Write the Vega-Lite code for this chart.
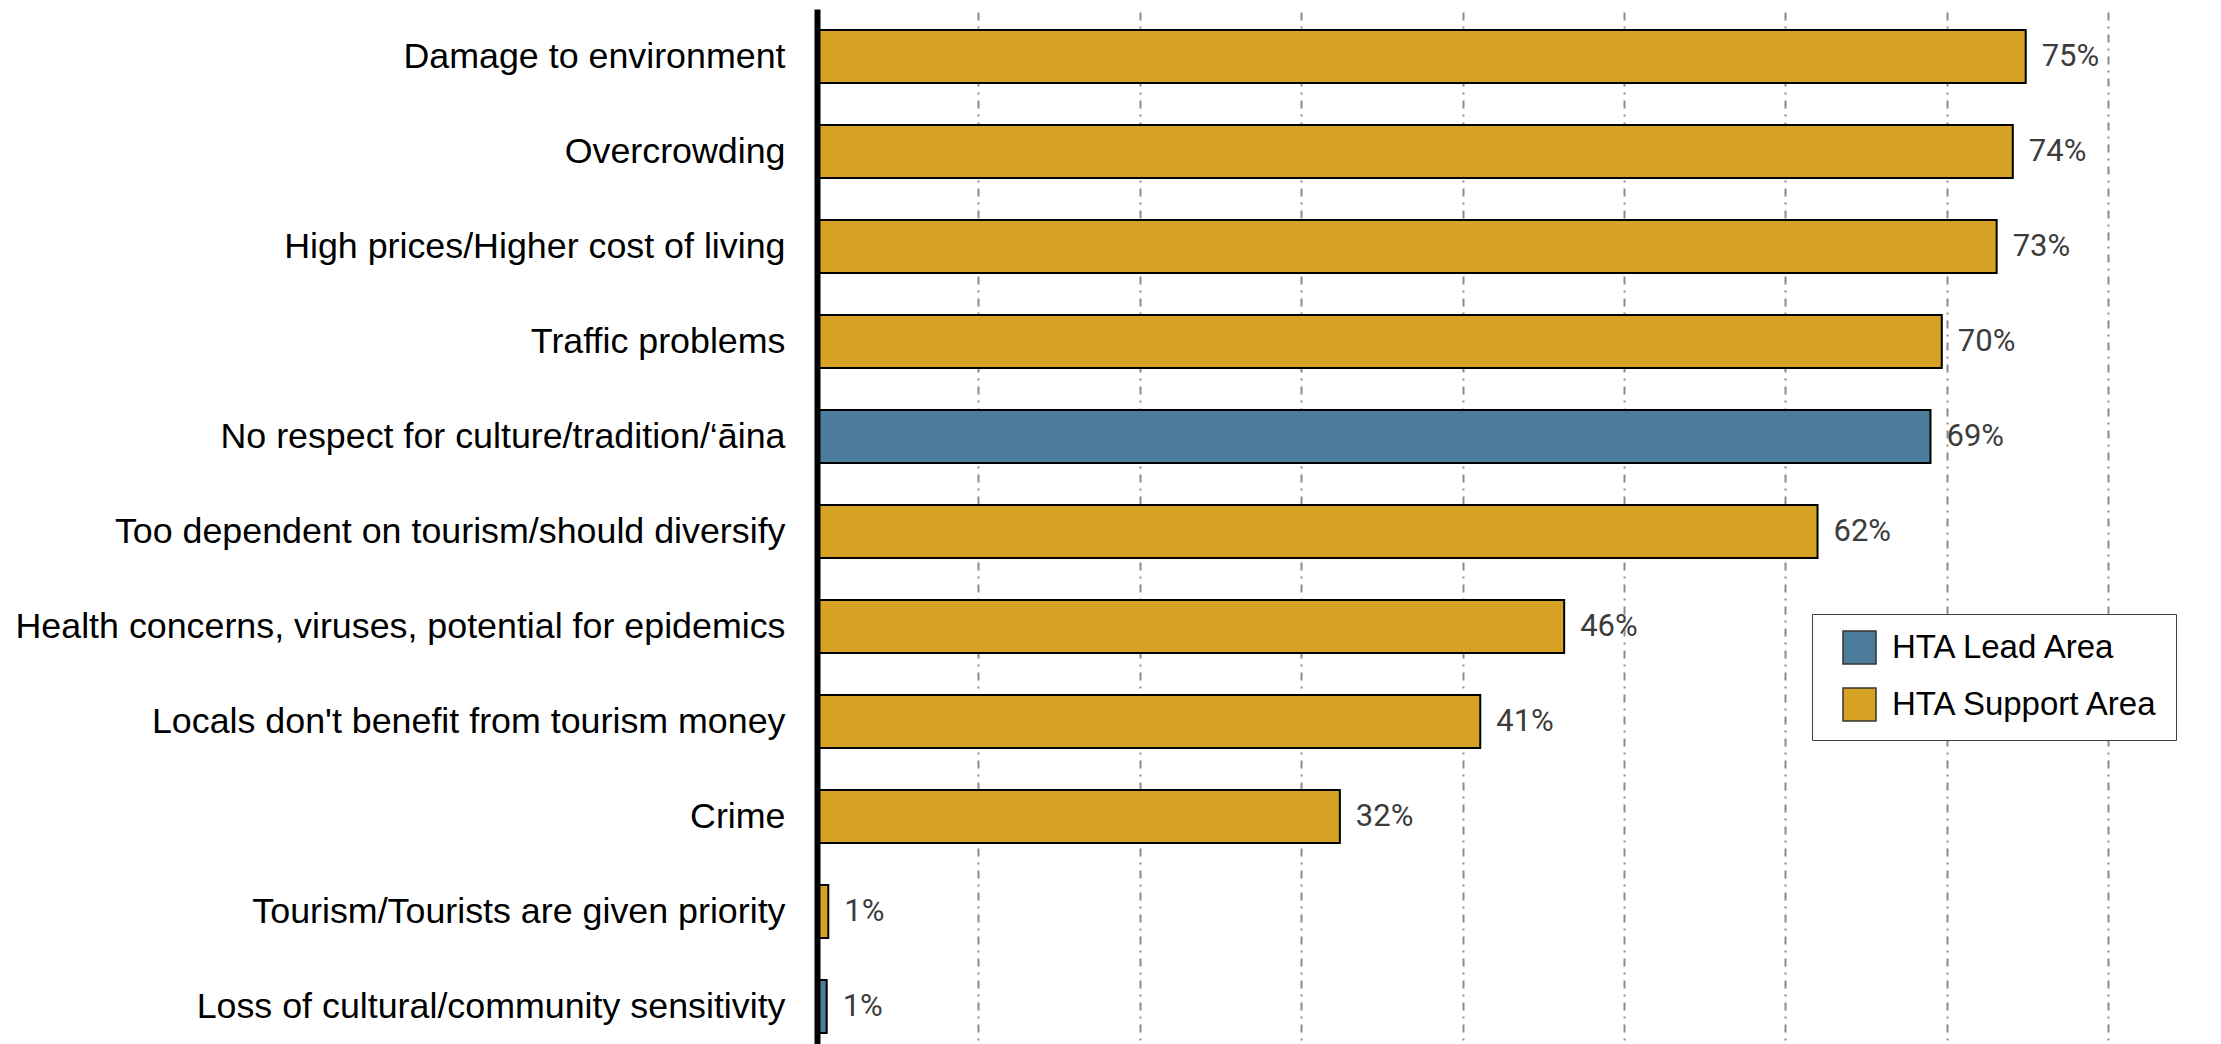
{
  "$schema": "https://vega.github.io/schema/vega-lite/v6.json",
  "width": 1291,
  "height": 1045,
  "autosize": {"type": "none"},
  "padding": {"left": 817, "top": 9, "right": 113, "bottom": 0},
  "background": "white",
  "data": {
    "values": [
      {"issue": "Damage to environment", "pct": 0.749, "area": "HTA Support Area"},
      {"issue": "Overcrowding", "pct": 0.741, "area": "HTA Support Area"},
      {"issue": "High prices/Higher cost of living", "pct": 0.731, "area": "HTA Support Area"},
      {"issue": "Traffic problems", "pct": 0.697, "area": "HTA Support Area"},
      {"issue": "No respect for culture/tradition/‘āina", "pct": 0.69, "area": "HTA Lead Area"},
      {"issue": "Too dependent on tourism/should diversify", "pct": 0.62, "area": "HTA Support Area"},
      {"issue": "Health concerns, viruses, potential for epidemics", "pct": 0.463, "area": "HTA Support Area"},
      {"issue": "Locals don't benefit from tourism money", "pct": 0.411, "area": "HTA Support Area"},
      {"issue": "Crime", "pct": 0.324, "area": "HTA Support Area"},
      {"issue": "Tourism/Tourists are given priority", "pct": 0.007, "area": "HTA Support Area"},
      {"issue": "Loss of cultural/community sensitivity", "pct": 0.006, "area": "HTA Lead Area"}
    ]
  },
  "encoding": {
    "y": {
      "field": "issue",
      "type": "nominal",
      "sort": null,
      "scale": {"paddingInner": 0.44, "paddingOuter": 0.22},
      "axis": {
        "title": null,
        "ticks": false,
        "grid": false,
        "labelPadding": 32,
        "labelFontSize": 35.8,
        "labelFont": "Liberation Sans",
        "labelColor": "black",
        "labelLimit": 0,
        "domainColor": "black",
        "domainWidth": 6,
        "zindex": 1
      }
    },
    "x": {
      "field": "pct",
      "type": "quantitative",
      "scale": {"domain": [0, 0.8]},
      "axis": {
        "title": null,
        "labels": false,
        "ticks": false,
        "domain": false,
        "grid": true,
        "gridColor": "#8c8c8c",
        "gridWidth": 2,
        "gridDash": [8, 6, 2, 6],
        "values": [0.1, 0.2, 0.3, 0.4, 0.5, 0.6, 0.7, 0.8]
      }
    }
  },
  "layer": [
    {
      "mark": {"type": "bar", "stroke": "black", "strokeWidth": 2},
      "encoding": {
        "color": {
          "field": "area",
          "type": "nominal",
          "scale": {"domain": ["HTA Lead Area", "HTA Support Area"], "range": ["#4B7C9B", "#D6A224"]},
          "legend": {
            "title": null,
            "orient": "none",
            "legendX": 995,
            "legendY": 605,
            "symbolType": "square",
            "symbolSize": 1089,
            "symbolStrokeColor": "#333333",
            "symbolStrokeWidth": 1.5,
            "labelFontSize": 33,
            "labelFont": "Liberation Sans",
            "labelColor": "black",
            "labelLimit": 0,
            "labelOffset": 15,
            "labelExpr": "datum.label + '\u2003\u2003\u2003\u2003\u2003'",
            "rowPadding": 18,
            "padding": 16,
            "symbolOffset": 14,
            "strokeColor": "#404040",
            "fillColor": "white"
          }
        }
      }
    },
    {
      "mark": {"type": "text", "align": "left", "baseline": "middle", "dx": 16, "fontSize": 31, "font": "Roboto", "color": "#3c3c3c"},
      "encoding": {
        "text": {"field": "pct", "type": "quantitative", "format": ".0%"}
      }
    }
  ],
  "config": {"view": {"stroke": null}}
}
